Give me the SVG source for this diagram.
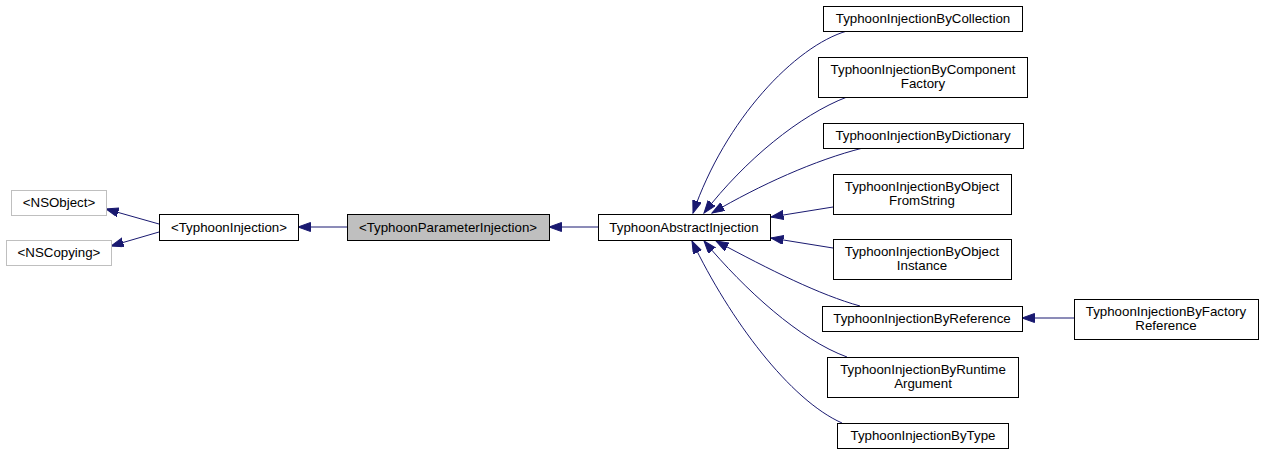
<svg xmlns="http://www.w3.org/2000/svg" width="1264" height="455" viewBox="0 0 1264 455">
<style>
.box{fill:#fff;stroke:#000;stroke-width:1}
.ext{fill:#fff;stroke:#bfbfbf;stroke-width:1}
.cur{fill:#bfbfbf;stroke:#000;stroke-width:1}
text{font-family:"Liberation Sans",Arial,sans-serif;font-size:13.3px;fill:#000;text-anchor:middle}
.edge{fill:none;stroke:#191970;stroke-width:1}
</style>
<defs>
<marker id="ah" markerUnits="userSpaceOnUse" markerWidth="14" markerHeight="10" refX="12.5" refY="4.5" orient="auto">
<path d="M0,0 L12.5,4.5 L0,9 z" fill="#191970" stroke="#191970" stroke-width="1"/>
</marker>
</defs>
<g id="connectors">
<path class="edge" marker-end="url(#ah)" d="M159,224 L106,209"/>
<path class="edge" marker-end="url(#ah)" d="M159,232 L111,246"/>
<path class="edge" marker-end="url(#ah)" d="M347,227 L298,227"/>
<path class="edge" marker-end="url(#ah)" d="M598,227 L549,227"/>
<path class="edge" marker-end="url(#ah)" d="M847,31 C795,46 725,120 693,213"/>
<path class="edge" marker-end="url(#ah)" d="M847,97 C800,115 745,160 704,213"/>
<path class="edge" marker-end="url(#ah)" d="M863,148 C815,160 760,185 712,213"/>
<path class="edge" marker-end="url(#ah)" d="M833,207 L771,217"/>
<path class="edge" marker-end="url(#ah)" d="M833,248 L771,238"/>
<path class="edge" marker-end="url(#ah)" d="M860,306 C820,295 770,270 716,241"/>
<path class="edge" marker-end="url(#ah)" d="M847,357 C800,340 745,290 704,241"/>
<path class="edge" marker-end="url(#ah)" d="M842,423 C790,400 730,320 692,241"/>
<path class="edge" marker-end="url(#ah)" d="M1074,318 L1022,318"/>
</g>
<g id="NSObject"><rect class="ext" x="11.5" y="190.5" width="95" height="25"/><text x="59" y="207">&lt;NSObject&gt;</text></g>
<g id="NSCopying"><rect class="ext" x="6.5" y="240.5" width="105" height="25"/><text x="59" y="257">&lt;NSCopying&gt;</text></g>
<g id="TyphoonInjection"><rect class="box" x="159.5" y="214.5" width="139" height="26"/><text x="229" y="232">&lt;TyphoonInjection&gt;</text></g>
<g id="TyphoonParameterInjection"><rect class="cur" x="347.5" y="214.5" width="202" height="26"/><text x="448" y="232">&lt;TyphoonParameterInjection&gt;</text></g>
<g id="TyphoonAbstractInjection"><rect class="box" x="598.5" y="214.5" width="172" height="26"/><text x="684" y="232">TyphoonAbstractInjection</text></g>
<g id="ByCollection"><rect class="box" x="823.5" y="6.5" width="199" height="25"/><text x="923" y="23">TyphoonInjectionByCollection</text></g>
<g id="ByComponentFactory"><rect class="box" x="818.5" y="57.5" width="209" height="40"/><text x="923" y="74">TyphoonInjectionByComponent</text><text x="923" y="88">Factory</text></g>
<g id="ByDictionary"><rect class="box" x="823.5" y="123.5" width="200" height="25"/><text x="923" y="140">TyphoonInjectionByDictionary</text></g>
<g id="ByObjectFromString"><rect class="box" x="833.5" y="174.5" width="178" height="40"/><text x="922" y="191">TyphoonInjectionByObject</text><text x="922" y="205">FromString</text></g>
<g id="ByObjectInstance"><rect class="box" x="833.5" y="239.5" width="178" height="40"/><text x="922" y="256">TyphoonInjectionByObject</text><text x="922" y="270">Instance</text></g>
<g id="ByReference"><rect class="box" x="822.5" y="306.5" width="200" height="25"/><text x="922" y="323">TyphoonInjectionByReference</text></g>
<g id="ByFactoryReference"><rect class="box" x="1074.5" y="299.5" width="184" height="40"/><text x="1166" y="316">TyphoonInjectionByFactory</text><text x="1166" y="330">Reference</text></g>
<g id="ByRuntimeArgument"><rect class="box" x="827.5" y="357.5" width="191" height="40"/><text x="923" y="374">TyphoonInjectionByRuntime</text><text x="923" y="388">Argument</text></g>
<g id="ByType"><rect class="box" x="837.5" y="423.5" width="171" height="25"/><text x="923" y="440">TyphoonInjectionByType</text></g>
</svg>
